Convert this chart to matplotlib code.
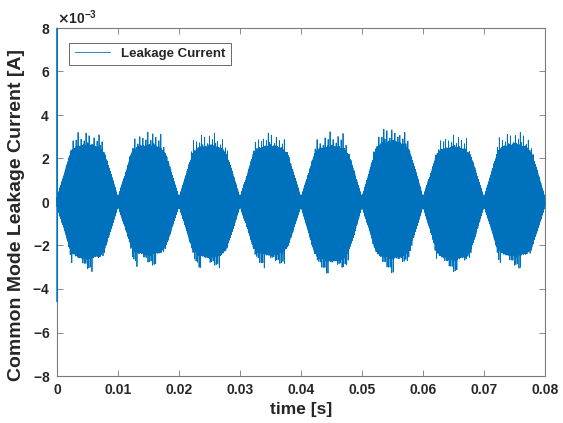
import numpy as np
import matplotlib
matplotlib.use('Agg')
from matplotlib import pyplot
from matplotlib.ticker import ScalarFormatter

# --- values (mA) ---
# peak / trough of each 10 ms lobe
lobe_start = [0.00, 0.01, 0.02, 0.03, 0.04, 0.05, 0.06, 0.07]
lobe_max = [3.20, 3.22, 3.17, 3.17, 3.23, 3.35, 3.08, 3.20]
lobe_min = [-3.20, -2.97, -3.03, -3.03, -3.27, -3.25, -3.20, -3.04]
lobe_len = 0.01

# envelope of the dense band inside one lobe (fraction of lobe -> mA)
env_phase = [0.0, 0.05, 0.11, 0.22, 0.30, 0.50, 0.70, 0.78, 0.86, 0.95, 1.0]
env_level = [0.2, 0.7, 1.25, 2.35, 2.6, 2.75, 2.6, 2.3, 1.6, 0.7, 0.2]

# start-up transient at t = 0
startup_t = [0.0, 0.0, 0.00001, 0.00002]
startup_i = [0.0, 8.0, -4.6, 0.0]

carrier_hz = 16000.0
fs = 640000.0

xticks = [0, 0.01, 0.02, 0.03, 0.04, 0.05, 0.06, 0.07, 0.08]
xtick_labels = ['0', '0.01', '0.02', '0.03', '0.04', '0.05', '0.06', '0.07', '0.08']
yticks = [-8, -6, -4, -2, 0, 2, 4, 6, 8]

# --- build the band ---
t_parts = []
i_parts = []
for k in range(len(lobe_start)):
    t = lobe_start[k] + np.arange(0, lobe_len, 1.0 / fs)
    ph = (t - lobe_start[k]) / lobe_len
    env = np.interp(ph, env_phase, env_level)
    s = np.sin(2 * np.pi * carrier_hz * t)
    n = np.floor(t * carrier_hz) + 37 * k
    # per switching cycle ripple and occasional overshoot
    rip = 1 + 0.08 * (((n * 0.4142136) % 1.0) - 0.5)
    ja = (n * 0.6180340) % 1.0
    jb = (n * 0.7548777 + 0.3) % 1.0
    sp_a = np.clip((ja - 0.80) / 0.20, 0, 1)
    sp_b = np.clip((jb - 0.80) / 0.20, 0, 1)
    mid = np.clip((env - 1.8) / 0.7, 0, 1)
    pos = env * s * rip * (1 + 0.27 * sp_a * mid)
    neg = env * s * rip * (1 + 0.27 * sp_b * mid)
    sig = np.where(s > 0, pos, neg)
    sig = np.where(sig > 0, sig * lobe_max[k] / sig.max(), sig * lobe_min[k] / sig.min())
    t_parts.append(t)
    i_parts.append(sig)

time = np.concatenate([np.array(startup_t)] + t_parts)
current = np.concatenate([np.array(startup_i)] + i_parts) * 1e-3

# --- plot ---
pyplot.rcParams['font.family'] = ['Liberation Sans', 'DejaVu Sans']
pyplot.rcParams['font.weight'] = 'bold'
pyplot.rcParams['axes.unicode_minus'] = False

edge = '#7a7a7a'
txt = '#262626'

fig = pyplot.figure(figsize=(5.63, 4.23), dpi=100)
ax = fig.add_axes([57 / 563, 1 - 376 / 423, 488 / 563, 348 / 423])

ax.plot(time, current, color='#0072BD', lw=0.6, label='Leakage Current',
        zorder=3, clip_on=False)

ax.set_xlim(0, 0.08)
ax.set_ylim(-8e-3, 8e-3)
ax.set_xticks(xticks)
ax.set_xticklabels(xtick_labels)
ax.set_yticks([v * 1e-3 for v in yticks])

fmt = ScalarFormatter(useMathText=True)
fmt.set_powerlimits((-2, 2))
ax.yaxis.set_major_formatter(fmt)
ax.yaxis.get_offset_text().set_fontsize(10)
ax.yaxis.get_offset_text().set_color(txt)

ax.tick_params(direction='in', top=True, right=True, length=4, width=0.6,
               colors=edge, labelcolor=txt, labelsize=10, pad=5)
for sp in ax.spines.values():
    sp.set_color(edge)
    sp.set_linewidth(0.8)

ax.set_xlabel('time [s]', fontsize=12.5, fontweight='bold', color=txt)
ax.xaxis.set_label_coords(0.5, -0.074)
ax.set_ylabel('Common Mode Leakage Current [A]', fontsize=14, fontweight='bold',
              color=txt)
ax.yaxis.set_label_coords(-0.066, 0.463)

leg = ax.legend(loc='upper left', fontsize=9.5, frameon=True, fancybox=False,
                handlelength=2.7, borderpad=0.4, bbox_to_anchor=(0.012, 0.977))
leg.get_frame().set_edgecolor('#262626')
leg.get_frame().set_linewidth(0.6)
for text in leg.get_texts():
    text.set_color(txt)
    text.set_fontweight('bold')

fig.savefig('out.png', dpi=100)
